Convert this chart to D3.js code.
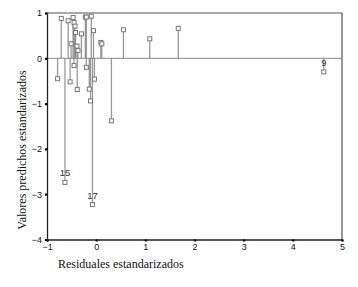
<!DOCTYPE html>
<html>
<head>
<meta charset="utf-8">
<script src="https://cdn.jsdelivr.net/npm/d3@7/dist/d3.min.js"></script>
<style>
  html, body { margin: 0; padding: 0; background: #fff; }
  svg { display: block; }
</style>
</head>
<body>
<svg id="chart" width="358" height="287"></svg>
<script>
// Data: standardized residuals (x) vs standardized predicted values (y)
const residuals = [-0.785, -0.71, -0.635, -0.57, -0.53, -0.51, -0.47, -0.45, -0.45, -0.43, -0.42, -0.39, -0.385, -0.37, -0.30, -0.22, -0.20, -0.20, -0.14, -0.115, -0.10, -0.075, -0.055, -0.035, 0.095, 0.115, 0.31, 0.555, 1.09, 1.67, 4.63];
const predicted = [-0.45, 0.88, -2.74, 0.83, -0.52, 0.32, 0.90, -0.16, 0.79, 0.71, 0.57, 0.27, -0.69, 0.17, 0.54, 0.91, 0.91, -0.20, -0.68, -0.94, 0.93, -3.23, 0.61, -0.46, 0.35, 0.32, -1.38, 0.63, 0.43, 0.66, -0.30];
const caseLabels = ["", "", "15", "", "", "", "", "", "", "", "", "", "", "", "", "", "", "", "", "", "", "17", "", "", "", "", "", "", "", "", "9"];
const xTicks = [-1, 0, 1, 2, 3, 4, 5];
const yTicks = [1, 0, -1, -2, -3, -4];
const xTitle = "Residuales estandarizados";
const yTitle = "Valores predichos estandarizados";

const svg = d3.select("#chart");
const padL = 47, padR = 342, padT = 13, padB = 239.5;

const x = d3.scaleLinear().domain([-1, 5]).range([padL, padR]);
const y = d3.scaleLinear().domain([-4, 1]).range([padB, padT]);

const pts = residuals.map((r, i) => ({ x: r, y: predicted[i], label: caseLabels[i] }));

// frame (top & right)
svg.append("line").attr("x1", padL).attr("x2", padR).attr("y1", padT).attr("y2", padT)
  .attr("stroke", "#555").attr("stroke-width", 1.2);
svg.append("line").attr("x1", padR).attr("x2", padR).attr("y1", padT).attr("y2", padB)
  .attr("stroke", "#555").attr("stroke-width", 1.2);

// zero reference line
svg.append("line").attr("x1", padL).attr("x2", padR).attr("y1", y(0)).attr("y2", y(0))
  .attr("stroke", "#888").attr("stroke-width", 1);

// drop lines
svg.append("g").selectAll("line").data(pts).join("line")
  .attr("x1", d => x(d.x)).attr("x2", d => x(d.x))
  .attr("y1", y(0)).attr("y2", d => y(d.y))
  .attr("stroke", "#808080").attr("stroke-opacity", 0.8).attr("stroke-width", 1.3);

// markers
svg.append("g").selectAll("rect").data(pts).join("rect")
  .attr("x", d => x(d.x) - 2).attr("y", d => y(d.y) - 2)
  .attr("width", 4).attr("height", 4)
  .attr("fill", "#fff").attr("stroke", "#777").attr("stroke-width", 1);

// case labels
svg.append("g").selectAll("text").data(pts.filter(d => d.label)).join("text")
  .attr("x", d => x(d.x)).attr("y", d => y(d.y) - 6)
  .attr("text-anchor", "middle")
  .attr("font-family", "Liberation Sans, Arial, sans-serif")
  .attr("font-size", 9.5).attr("fill", "#333")
  .text(d => d.label);

// axes
const xAxis = d3.axisBottom(x).tickValues(xTicks).tickSize(2).tickPadding(2).tickFormat(d3.format("d"));
const yAxis = d3.axisLeft(y).tickValues(yTicks).tickSize(2).tickPadding(3).tickFormat(d3.format("d"));

const gx = svg.append("g").attr("transform", `translate(0,${padB})`).call(xAxis);
const gy = svg.append("g").attr("transform", `translate(${padL},0)`).call(yAxis);
[gx, gy].forEach(g => {
  g.select(".domain").attr("stroke", "#222").attr("stroke-width", 1.3);
  g.selectAll(".tick line").attr("stroke", "#000").attr("stroke-width", 2.2);
  g.selectAll(".tick text").attr("font-family", "Liberation Sans, Arial, sans-serif")
    .attr("font-size", 9).attr("fill", "#111");
});

// titles
svg.append("text").attr("x", 58).attr("y", 268)
  .attr("font-family", "Liberation Serif, Times New Roman, serif")
  .attr("font-size", 12).attr("fill", "#111")
  .text(xTitle);
svg.append("text").attr("transform", "translate(26,150) rotate(-90)")
  .attr("text-anchor", "middle")
  .attr("font-family", "Liberation Serif, Times New Roman, serif")
  .attr("font-size", 12).attr("fill", "#111")
  .text(yTitle);
</script>
</body>
</html>
